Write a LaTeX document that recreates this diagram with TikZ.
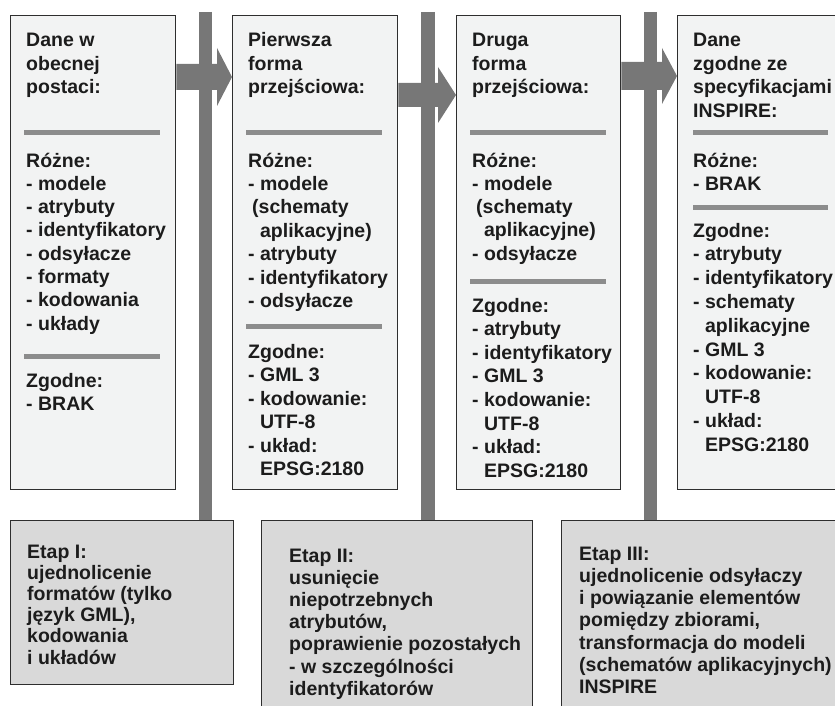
\documentclass[tikz,border=0pt]{standalone}
\usepackage{fontspec}
\setmainfont{Liberation Sans}
\usetikzlibrary{calc}

\definecolor{inkgray}{HTML}{777777}
\definecolor{rulegray}{HTML}{8C8C8C}
\definecolor{paper}{HTML}{F2F3F3}
\definecolor{stagefill}{HTML}{D9D9D9}
\definecolor{edge}{HTML}{2E2E2E}
\definecolor{ink}{HTML}{1C1C1C}

% indent of a continuation line (width of "- ")
\newcommand\ind{\hphantom{-\ }}
% a column of text lines: name prefix, x, first baseline, line step, lines
\newcommand\txtlines[5]{%
  \foreach \lineitem [count=\k from 0] in {#5}{%
    \node[txt] (#1-\k) at (#2,{#3+\k*#4}) {\lineitem};}}
% a separator rule inside a box at height y
\newcommand\seprule[2]{%
  \draw[rule] ($(#1.west |- 0,#2)+(14,0)$) -- ++(136,0);}
% a block arrow from box #1 to box #2 at height #3
% (#4 half shaft, #5 half head, #6 head length)
\newcommand\blockarrow[6]{%
  \coordinate (#1-#2-s) at (#1.east |- 0,#3);
  \coordinate (#1-#2-t) at (#2.west |- 0,#3);
  \fill[inkgray] ($(#1-#2-s)+(0,-#4)$) -- ($(#1-#2-t)+(-#6,-#4)$)
    -- ($(#1-#2-t)+(-#6,-#5)$) -- (#1-#2-t) -- ($(#1-#2-t)+(-#6,#5)$)
    -- ($(#1-#2-t)+(-#6,#4)$) -- ($(#1-#2-s)+(0,#4)$) -- cycle;}

\begin{document}
\begin{tikzpicture}[x=1pt,y=-1pt,
  txt/.style={anchor=base west, inner sep=0pt, text=ink,
    font=\bfseries\fontsize{19.5pt}{23pt}\selectfont},
  databox/.style={draw=edge, fill=paper, line width=1.3pt,
    anchor=north west, inner sep=0pt},
  stagebox/.style={draw=edge, fill=stagefill, line width=1.3pt,
    anchor=north west, inner sep=0pt},
  rule/.style={draw=rulegray, line width=5pt},
  bar/.style={draw=inkgray, line width=#1},
  bar/.default=13pt]
\clip (0,0) rectangle (835,706);

% data states
\node[databox, minimum width=165pt, minimum height=474pt] (b1) at (10,15) {};
\node[databox, minimum width=165pt, minimum height=474pt] (b2) at (232,15) {};
\node[databox, minimum width=164pt, minimum height=474pt] (b3) at (456,15) {};
\node[databox, minimum width=190pt, minimum height=474pt] (b4) at (677,15) {};

% stages
\node[stagebox, minimum width=223pt, minimum height=164pt] (e1) at (10,520) {};
\node[stagebox, minimum width=271pt, minimum height=200pt] (e2) at (261,520) {};
\node[stagebox, minimum width=300pt, minimum height=200pt] (e3) at (561,520) {};

% vertical bars down to the stages
\coordinate (t1) at (205.5,12);
\coordinate (t2) at (428,12);
\coordinate (t3) at (650.5,12);
\draw[bar] (t1) -- (t1 |- e1.north);
\draw[bar=14pt] (t2) -- (t2 |- e2.north);
\draw[bar] (t3) -- (t3 |- e3.north);

% arrows between the states
\blockarrow{b1}{b2}{77}{13}{29}{15}
\blockarrow{b2}{b3}{95}{12}{28}{18}
\blockarrow{b3}{b4}{76}{14}{28}{15}

% separators
\seprule{b1}{133}\seprule{b1}{356}
\seprule{b2}{133}\seprule{b2}{326}
\seprule{b3}{133}\seprule{b3}{281}
\draw[rule] ($(b4.west |- 0,133)+(16,0)$) -- ++(135,0);
\draw[rule] ($(b4.west |- 0,207)+(16,0)$) -- ++(135,0);

% box 1
\txtlines{b1h}{26}{47}{23.5}{Dane w, obecnej, postaci:}
\txtlines{b1r}{26}{167}{23.3}{Różne:, - modele, - atrybuty, - identyfikatory,
  - odsyłacze, - formaty, - kodowania, - układy}
\txtlines{b1z}{26}{387}{23.5}{Zgodne:, - BRAK}

% box 2
\txtlines{b2h}{248}{47}{23.5}{Pierwsza, forma, przejściowa:}
\txtlines{b2r}{248}{167}{23.4}{Różne:, - modele, \hspace*{4pt}(schematy,
  \ind aplikacyjne), - atrybuty, - identyfikatory, - odsyłacze}
\txtlines{b2z}{248}{358}{23.5}{Zgodne:, - GML 3, - kodowanie:, \ind UTF-8,
  - układ:, \ind EPSG:2180}

% box 3
\txtlines{b3h}{472}{47}{23.5}{Druga, forma, przejściowa:}
\txtlines{b3r}{472}{167}{23.3}{Różne:, - modele, \hspace*{4pt}(schematy,
  \ind aplikacyjne), - odsyłacze}
\txtlines{b3z}{472}{312}{23.6}{Zgodne:, - atrybuty, - identyfikatory, - GML 3,
  - kodowanie:, \ind UTF-8, - układ:, \ind EPSG:2180}

% box 4
\txtlines{b4h}{693}{47}{23.5}{Dane, zgodne ze, specyfikacjami, INSPIRE:}
\txtlines{b4r}{693}{167}{23.5}{Różne:, - BRAK}
\txtlines{b4z}{693}{237}{23.8}{Zgodne:, - atrybuty, - identyfikatory, - schematy,
  \ind aplikacyjne, - GML 3, - kodowanie:, \ind UTF-8, - układ:, \ind EPSG:2180}

% stages text
\txtlines{e1t}{27}{558}{21.2}{Etap I:, ujednolicenie, formatów (tylko,
  {język GML),}, kodowania, i układów}
\txtlines{e2t}{289}{562}{22.2}{Etap II:, usunięcie, niepotrzebnych, {atrybutów,},
  poprawienie pozostałych, - w szczególności, identyfikatorów}
\txtlines{e3t}{579}{560}{22.3}{Etap III:, ujednolicenie odsyłaczy,
  i powiązanie elementów, {pomiędzy zbiorami,}, transformacja do modeli,
  (schematów aplikacyjnych), INSPIRE}
\end{tikzpicture}
\end{document}
